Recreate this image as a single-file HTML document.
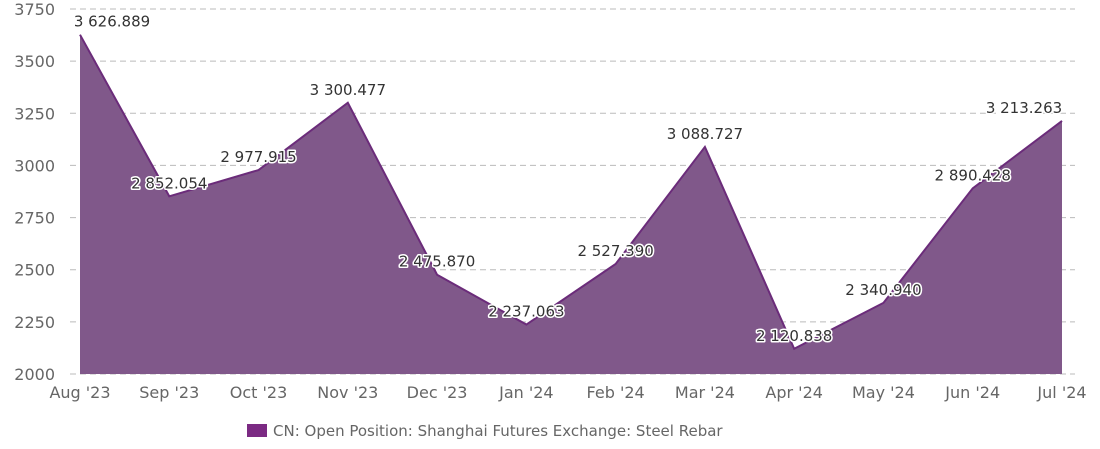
<!DOCTYPE html>
<html><head><meta charset="utf-8"><style>
body{margin:0;background:#fff;}
svg text{font-family:"DejaVu Sans","Liberation Sans",sans-serif;}
</style></head><body>
<svg id="chart" width="1100" height="444" xmlns="http://www.w3.org/2000/svg">
<g id="grid"></g><g id="area"></g><g id="labels"></g><g id="axes"></g>
<g>
<rect x="247" y="424" width="20" height="13" fill="#7b2a83"/>
<text x="273" y="436" font-size="15" fill="#666">CN: Open Position: Shanghai Futures Exchange: Steel Rebar</text>
</g>
</svg>
<script>
const categories=["Aug '23","Sep '23","Oct '23","Nov '23","Dec '23","Jan '24","Feb '24","Mar '24","Apr '24","May '24","Jun '24","Jul '24"];
const values=[3626.889,2852.054,2977.915,3300.477,2475.870,2237.063,2527.390,3088.727,2120.838,2340.940,2890.428,3213.263];
const yTicks=[2000,2250,2500,2750,3000,3250,3500,3750];
const NS="http://www.w3.org/2000/svg";
const L=80,R=1062,T=9,B=374,ymin=2000,ymax=3750;
const x=i=>L+i*(R-L)/(categories.length-1);
const y=v=>B-(v-ymin)/(ymax-ymin)*(B-T);
function mk(tag,attrs,parent,txt){const e=document.createElementNS(NS,tag);for(const k in attrs)e.setAttribute(k,attrs[k]);if(txt!==undefined)e.textContent=txt;parent.appendChild(e);return e;}
const grid=document.getElementById('grid'),area=document.getElementById('area'),labels=document.getElementById('labels'),axes=document.getElementById('axes');
yTicks.forEach(t=>{
 const g=mk('line',{x1:70,x2:1075,y1:y(t),y2:y(t),stroke:'#bbb','stroke-dasharray':'6,4'},grid);
 
 
 const tx=mk('text',{x:55,y:y(t)+6,'text-anchor':'end','font-size':16,fill:'#666'},axes,String(t));
 
 
});
categories.forEach((c,i)=>{
 const tx=mk('text',{x:x(i),y:398,'text-anchor':'middle','font-size':16,fill:'#666'},axes,c);
 
 
});
let d='M'+x(0)+','+B;
values.forEach((v,i)=>{d+=' L'+x(i)+','+y(v);});
d+=' L'+x(values.length-1)+','+B+' Z';
const p=mk('path',{d:d,fill:'#80588a'},area);


const ld=values.map((v,i)=>(i?'L':'M')+x(i)+','+y(v)).join(' ');
const ln=mk('path',{d:ld,fill:'none',stroke:'#6b2c7a','stroke-width':2},area);


const fmt=v=>{const s=v.toFixed(3).split('.');return s[0].replace(/\B(?=(\d{3})+(?!\d))/g,' ')+'.'+s[1];};
values.forEach((v,i)=>{
 let lx=x(i); if(i===0)lx+=32; if(i===values.length-1)lx-=38;
 const ly=y(v)-8;
 const t=mk('text',{x:lx,y:ly,'text-anchor':'middle','font-size':15,fill:'#333',stroke:'#fff','stroke-width':3,'paint-order':'stroke','stroke-linejoin':'round'},labels,fmt(v));
 
 
});
</script>
</body></html>
